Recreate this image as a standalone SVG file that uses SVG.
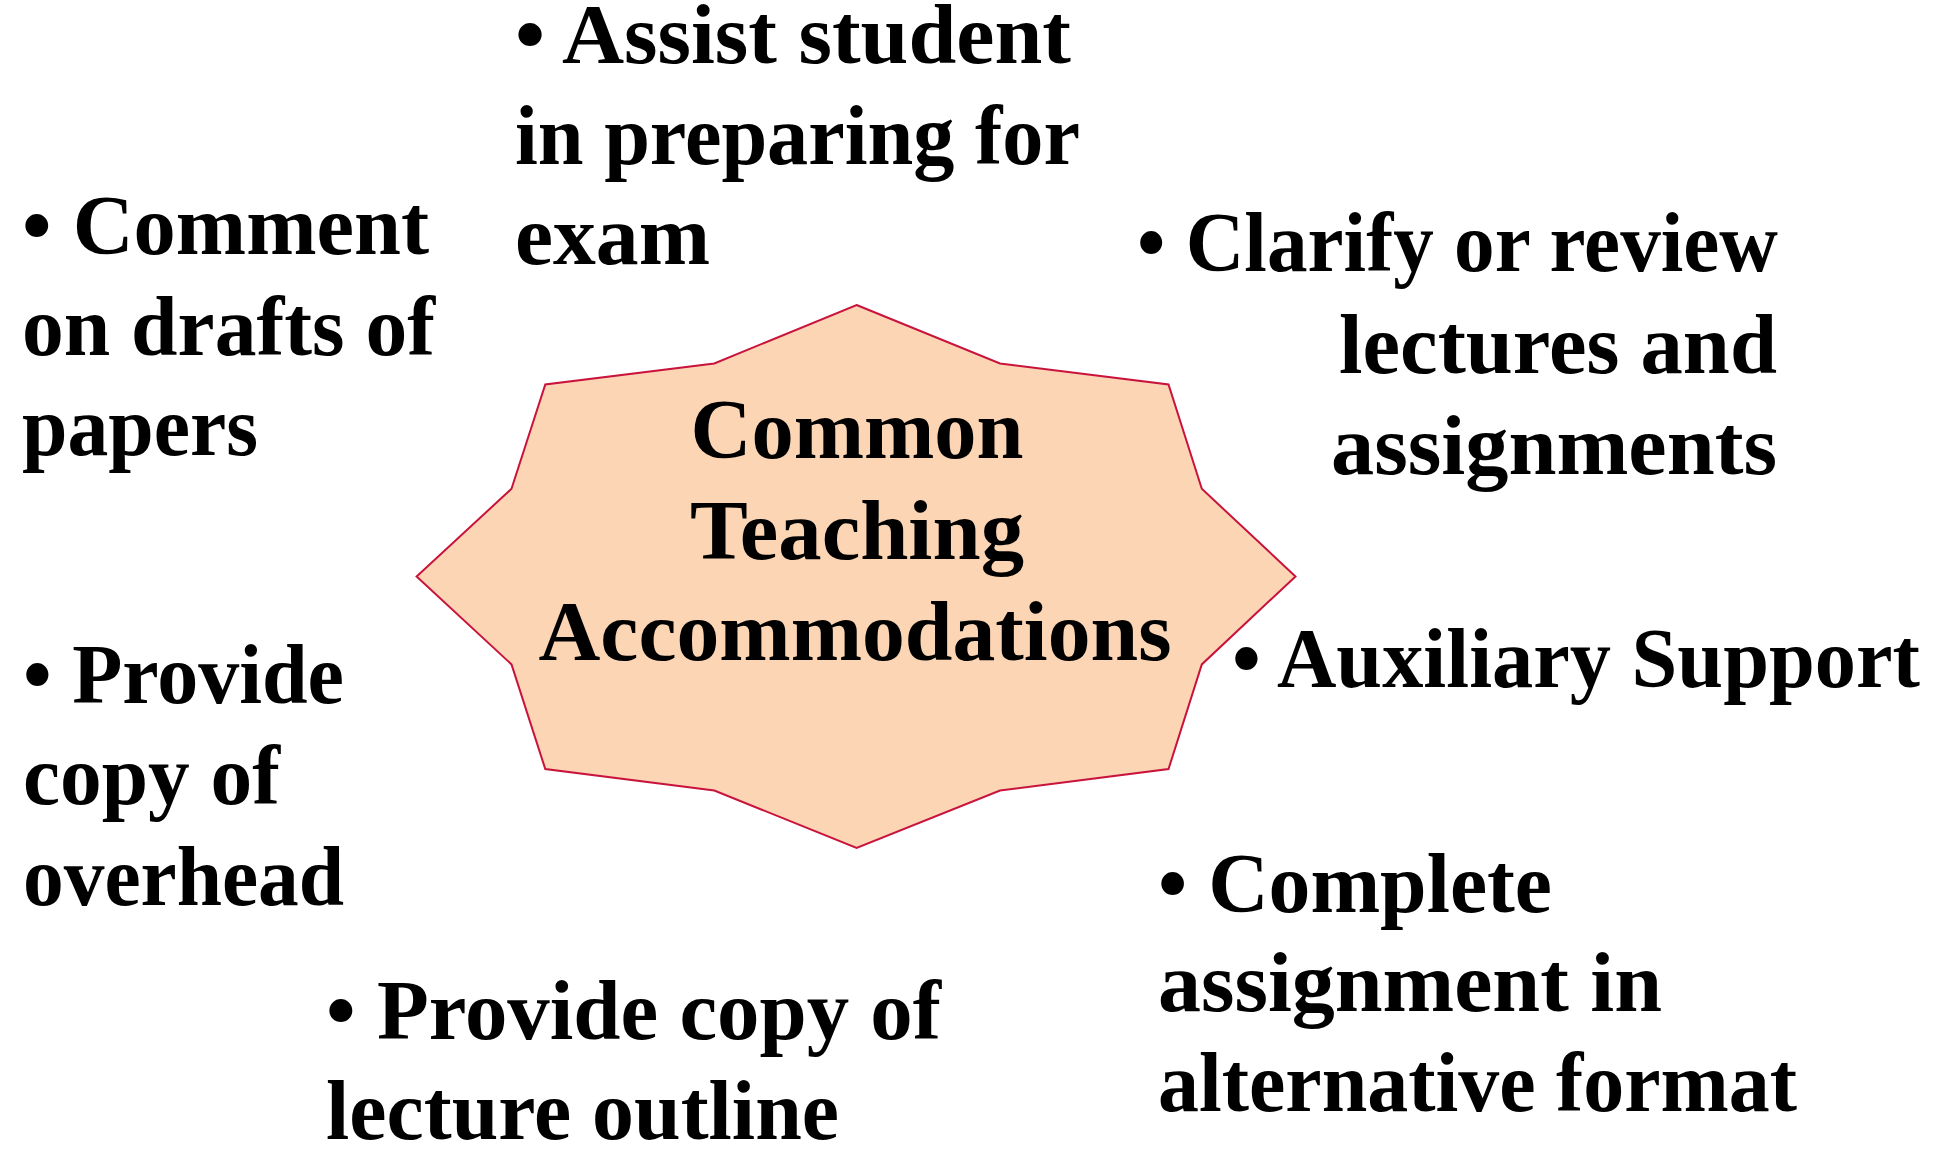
<svg xmlns="http://www.w3.org/2000/svg" width="1944" height="1149" viewBox="0 0 1944 1149">
<style>
.t{font-family:"Liberation Serif","Times New Roman",serif;font-weight:bold;font-size:85px;fill:#000}
.c{text-anchor:middle}
</style>
<rect width="1944" height="1149" fill="#fff"/>
<g id="center">
<polygon points="856.6,305 1000,363.4 1168.5,384.5 1201.8,488.8 1295.5,576.4 1201.8,664.4 1168.5,769.1 1000,790.5 856.6,848 714.3,790.5 545.3,769.1 511.5,664.4 416.6,576.4 511.5,488.8 545.3,384.5 714.3,363.4" fill="#FCD5B5" stroke="#C8143C" stroke-width="2"/>
<text class="t c" x="857" y="458" textLength="333" lengthAdjust="spacingAndGlyphs">Common</text>
<text class="t c" x="857" y="559" textLength="334" lengthAdjust="spacingAndGlyphs">Teaching</text>
<text class="t c" x="855" y="660" textLength="633" lengthAdjust="spacingAndGlyphs">Accommodations</text>
</g>
<g id="connectors"/>
<g id="assist">
<text class="t" x="515" y="63" textLength="556" lengthAdjust="spacingAndGlyphs">• Assist student</text>
<text class="t" x="515" y="164" textLength="565" lengthAdjust="spacingAndGlyphs">in preparing for</text>
<text class="t" x="515" y="264" textLength="195" lengthAdjust="spacingAndGlyphs">exam</text>
</g>
<g id="comment">
<text class="t" x="22" y="254" textLength="407" lengthAdjust="spacingAndGlyphs">• Comment</text>
<text class="t" x="22" y="355" textLength="413" lengthAdjust="spacingAndGlyphs">on drafts of</text>
<text class="t" x="22" y="455" textLength="236" lengthAdjust="spacingAndGlyphs">papers</text>
</g>
<g id="clarify">
<text class="t" x="1137" y="271" textLength="641" lengthAdjust="spacingAndGlyphs">• Clarify or review</text>
<text class="t" x="1339" y="373" textLength="438" lengthAdjust="spacingAndGlyphs">lectures and</text>
<text class="t" x="1331" y="474" textLength="446" lengthAdjust="spacingAndGlyphs">assignments</text>
</g>
<g id="auxiliary">
<text class="t" x="1232" y="687" textLength="688" lengthAdjust="spacingAndGlyphs">• Auxiliary Support</text>
</g>
<g id="overhead">
<text class="t" x="23" y="703" textLength="321" lengthAdjust="spacingAndGlyphs">• Provide</text>
<text class="t" x="23" y="804" textLength="257" lengthAdjust="spacingAndGlyphs">copy of</text>
<text class="t" x="23" y="905" textLength="321" lengthAdjust="spacingAndGlyphs">overhead</text>
</g>
<g id="outline">
<text class="t" x="326" y="1039" textLength="615" lengthAdjust="spacingAndGlyphs">• Provide copy of</text>
<text class="t" x="326" y="1139" textLength="513" lengthAdjust="spacingAndGlyphs">lecture outline</text>
</g>
<g id="complete">
<text class="t" x="1158" y="912" textLength="394" lengthAdjust="spacingAndGlyphs">• Complete</text>
<text class="t" x="1158" y="1011" textLength="504" lengthAdjust="spacingAndGlyphs">assignment in</text>
<text class="t" x="1158" y="1111" textLength="639" lengthAdjust="spacingAndGlyphs">alternative format</text>
</g>
</svg>
